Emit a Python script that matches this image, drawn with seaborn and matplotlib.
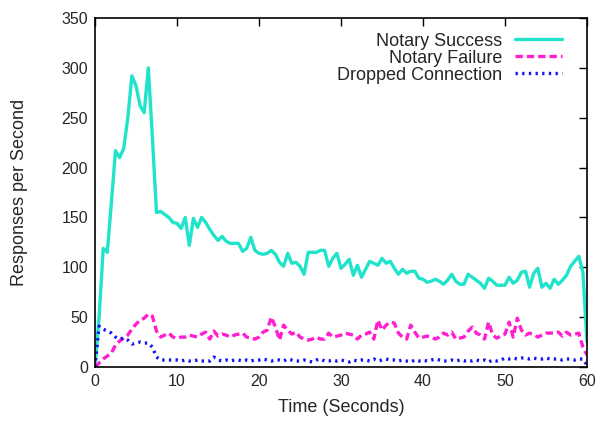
import numpy as np
import pandas as pd
import matplotlib
matplotlib.use("Agg")
import matplotlib.pyplot as plt
import seaborn as sns

# Sample times (every half second)
time_s = np.arange(121) * 0.5

# Responses per second
success = [
    0, 50, 119, 115, 165, 217, 210, 219, 250, 292,
    282, 262, 255, 300, 230, 155, 156, 153, 150, 145,
    144, 139, 150, 122, 149, 140, 150, 145, 138, 132,
    127, 131, 126, 124, 124, 124, 116, 119, 130, 117,
    114, 113, 114, 117, 113, 105, 101, 114, 104, 105,
    101, 93, 115, 115, 115, 117, 117, 101, 109, 114,
    99, 103, 108, 92, 102, 90, 98, 106, 104, 102,
    109, 104, 106, 99, 93, 98, 94, 96, 96, 89,
    88, 85, 86, 88, 86, 83, 87, 93, 86, 83,
    83, 93, 90, 87, 84, 79, 89, 86, 82, 82,
    82, 90, 84, 87, 95, 96, 80, 94, 99, 80,
    84, 79, 88, 83, 87, 92, 101, 106, 111, 95,
    25,
]
failure = [
    0, 4, 8, 11, 14, 22, 26, 29, 32, 38,
    43, 47, 49, 53, 51, 36, 30, 32, 34, 30,
    29, 30, 30, 32, 31, 30, 33, 35, 28, 36,
    31, 33, 32, 30, 32, 33, 34, 30, 29, 28,
    30, 35, 37, 50, 40, 27, 42, 37, 33, 35,
    30, 28, 27, 28, 30, 28, 28, 34, 30, 31,
    32, 34, 33, 32, 28, 32, 33, 35, 28, 47,
    37, 42, 45, 44, 34, 30, 28, 42, 35, 29,
    30, 31, 30, 28, 30, 34, 32, 35, 28, 29,
    30, 36, 40, 34, 32, 28, 45, 32, 29, 31,
    33, 45, 30, 49, 37, 32, 34, 32, 30, 32,
    34, 34, 34, 35, 31, 35, 32, 33, 34, 20,
    12,
]
dropped = [
    0, 41, 38, 36, 34, 30, 28, 29, 27, 23,
    24, 25, 24, 24, 20, 10, 7, 7, 7, 7,
    7, 6, 7, 6, 6, 7, 6, 6, 6, 10,
    7, 6, 7, 6, 7, 7, 6, 7, 6, 7,
    7, 8, 7, 6, 7, 7, 6, 8, 7, 6,
    6, 7, 6, 5, 7, 8, 6, 6, 7, 6,
    7, 6, 5, 7, 6, 7, 7, 6, 8, 6,
    7, 8, 7, 7, 6, 7, 6, 5, 7, 6,
    7, 6, 7, 8, 7, 6, 6, 7, 6, 7,
    6, 7, 6, 7, 6, 7, 5, 7, 6, 7,
    9, 8, 9, 8, 9, 9, 8, 9, 8, 8,
    9, 8, 8, 8, 7, 8, 8, 7, 8, 8,
    2,
]

df = pd.DataFrame({"time": time_s, "success": success,
                   "failure": failure, "dropped": dropped})

sns.set_style("white")
plt.rcParams['font.family'] = ['Liberation Sans', 'DejaVu Sans']

fig = plt.figure(figsize=(5.98, 4.24), dpi=100)
ax = fig.add_axes([95 / 598, 1 - 367 / 424, 492 / 598, 349 / 424])

sns.lineplot(data=df, x="time", y="success", ax=ax, color="#1fe3cb",
             linewidth=2.4, label="Notary Success")
sns.lineplot(data=df, x="time", y="failure", ax=ax, color="#ff1fd0",
             linewidth=2.4, label="Notary Failure")
sns.lineplot(data=df, x="time", y="dropped", ax=ax, color="#1414f0",
             linewidth=2.4, label="Dropped Connection")
ax.lines[1].set_linestyle((0, (2.2, 1.2)))
ax.lines[2].set_linestyle((0, (0.7, 1.3)))

ax.set_xlim(0, 60)
ax.set_ylim(0, 350)
ax.set_xticks(range(0, 61, 10))
ax.set_yticks(range(0, 351, 50))
ax.tick_params(direction="in", top=True, right=True, length=6, width=1,
               labelsize=11.5, color="black", pad=5)
for s in ax.spines.values():
    s.set_color("black")
    s.set_linewidth(1.2)
ax.set_xlabel("Time (Seconds)", fontsize=13, labelpad=7)
ax.set_ylabel("Responses per Second", fontsize=13, labelpad=24)

ax.legend(loc="upper right", bbox_to_anchor=(0.963, 0.979), frameon=False,
          markerfirst=False, fontsize=13, handlelength=2.6,
          labelspacing=0.0, handletextpad=0.7, borderaxespad=0.0)

fig.savefig("out.png", dpi=100)
